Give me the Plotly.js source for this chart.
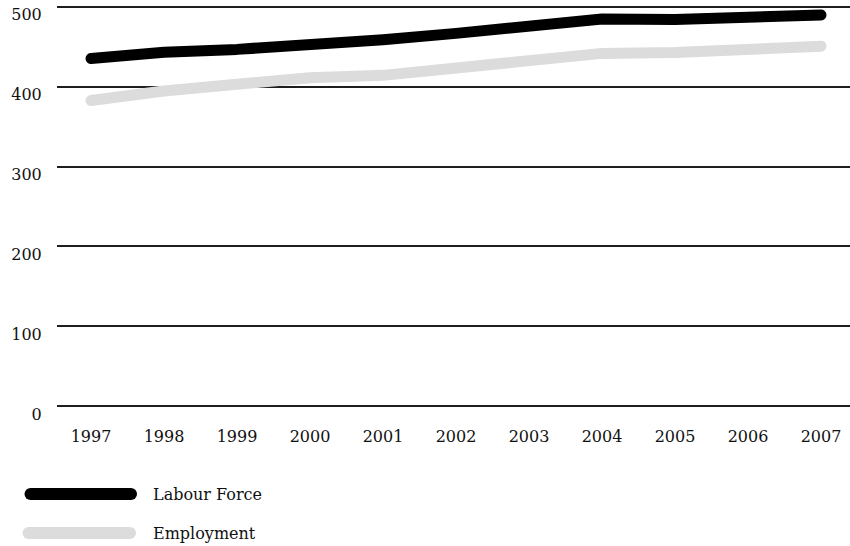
<!DOCTYPE html>
<html>
<head>
<meta charset="utf-8">
<script src="https://cdn.plot.ly/plotly-3.0.1.min.js"></script>
<style>
  html, body { margin: 0; padding: 0; background: #fff; }
  #chart { width: 850px; height: 546px; }
  /* rounded ends on the data lines and legend swatches */
  .scatterlayer path.js-line,
  .shapelayer path { stroke-linecap: round !important; stroke-linejoin: round !important; }
</style>
</head>
<body>
<div id="chart"></div>
<script>
// Labour market, 1997–2007
const years = [1997, 1998, 1999, 2000, 2001, 2002, 2003, 2004, 2005, 2006, 2007];
const labourForce = [435, 443, 446.5, 452, 458.5, 466.5, 474.5, 484.5, 484, 486.5, 489.5];
const employment = [382.5, 394.5, 403, 411, 414, 422.5, 431, 441.5, 442.5, 446, 450.5];
const yTicks = [0, 100, 200, 300, 400, 500];
const seriesNames = ['Labour Force', 'Employment'];
const seriesColors = ['#000000', '#dcdcdc'];

const W = 850, H = 546;
const M = { l: 57, r: 0, t: 5, b: 138 };
const plotW = W - M.l - M.r, plotH = H - M.t - M.b;
const FONT = { family: 'DejaVu Serif, serif', size: 16, color: '#111' };

// pixel -> paper helpers for the legend placed under the plot
const px2x = px => (px - M.l) / plotW;
const px2y = py => (H - M.b - py) / plotH;

const traces = [labourForce, employment].map((vals, i) => ({
  x: years,
  y: vals,
  type: 'scatter',
  mode: 'lines',
  name: seriesNames[i],
  line: { color: seriesColors[i], width: 11 },
  hoverinfo: 'skip',
  showlegend: false
}));
// draw the light series first so the dark one sits on top
traces.reverse();

const legendRows = [494, 533];
const shapes = [];
const annotations = [];
seriesNames.forEach((name, i) => {
  shapes.push({
    type: 'line', xref: 'paper', yref: 'paper',
    x0: px2x(i === 0 ? 30.5 : 28.5), x1: px2x(i === 0 ? 131 : 130),
    y0: px2y(legendRows[i]), y1: px2y(legendRows[i]),
    line: { color: seriesColors[i], width: 12 }
  });
  annotations.push({
    xref: 'paper', yref: 'paper',
    x: px2x(151), y: px2y(legendRows[i]),
    xanchor: 'left', yanchor: 'middle',
    text: name, showarrow: false, font: FONT
  });
});

const layout = {
  width: W, height: H,
  margin: M,
  paper_bgcolor: '#fff',
  plot_bgcolor: '#fff',
  font: FONT,
  showlegend: false,
  xaxis: {
    type: 'linear',
    range: [1997 - 34 / 73, 1997 + 759 / 73],
    tickmode: 'array',
    tickvals: years,
    ticktext: years.map(String),
    showgrid: false, zeroline: false, showline: false,
    ticks: 'outside', ticklen: 14, tickcolor: 'rgba(0,0,0,0)',
    tickfont: FONT
  },
  yaxis: {
    range: [-2, 502],
    tickmode: 'array',
    tickvals: yTicks,
    ticktext: yTicks.map(String),
    showgrid: true, gridcolor: '#1e1e1e', gridwidth: 2,
    zeroline: false, showline: false,
    ticks: 'outside', ticklen: 11, tickcolor: 'rgba(0,0,0,0)',
    ticklabelshift: 8,
    tickfont: FONT
  },
  shapes: shapes,
  annotations: annotations
};

Plotly.newPlot('chart', traces, layout, { displayModeBar: false, staticPlot: true });
</script>
</body>
</html>
